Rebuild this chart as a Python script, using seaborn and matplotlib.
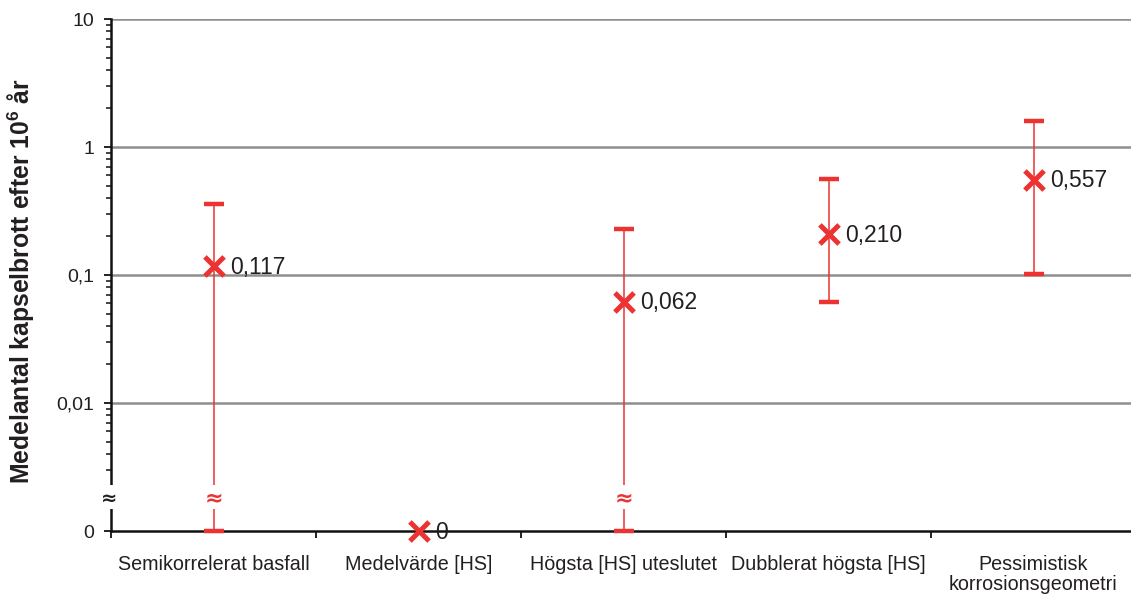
import numpy as np
import pandas as pd
import matplotlib
matplotlib.use("Agg")
import matplotlib.pyplot as plt
import matplotlib.transforms as mtransforms
from matplotlib.patches import Rectangle
import seaborn as sns

# Scenario names (x axis categories)
categories = [
    "Semikorrelerat basfall",
    "Medelvärde [HS]",
    "Högsta [HS] uteslutet",
    "Dubblerat högsta [HS]",
    "Pessimistisk\nkorrosionsgeometri",
]
# Mean number of canister failures and the uncertainty interval
mean_values = [0.117, 0.0, 0.062, 0.210, 0.557]
lower_values = [0.0, None, 0.0, 0.0615, 0.102]
upper_values = [0.359, None, 0.229, 0.562, 1.596]

# Y axis ticks (the bottom decade stands in for zero)
ytick_values = [0.001, 0.01, 0.1, 1, 10]
ytick_labels = ["0", "0,01", "0,1", "1", "10"]

FLOOR = 0.001
RED = "#EC3332"
TEXT = "#231F20"

sns.set_theme(style="white")
plt.rcParams["font.family"] = ["Liberation Sans", "DejaVu Sans"]
plt.rcParams["mathtext.fontset"] = "custom"
plt.rcParams["mathtext.rm"] = "Liberation Sans"
plt.rcParams["mathtext.bf"] = "Liberation Sans:bold"

fig = plt.figure(figsize=(11.31, 5.99), dpi=100)
W, H = 1131, 599
ax = fig.add_axes([111 / W, (H - 531) / H, 1025 / W, 512 / H])

x_pos = np.arange(len(categories))
plot_vals = [v if v > 0 else FLOOR for v in mean_values]
df = pd.DataFrame({"pos": x_pos, "value": plot_vals})

ax.set_yscale("log")
ax.set_ylim(FLOOR, 10)
ax.set_xlim(-0.5, len(categories) - 0.5)

# gridlines at the labelled decades
for yv in ytick_values[1:]:
    ax.axhline(yv, color="#8E8E8E", lw=1.8, zorder=1)

# error bars
for i, (lo, hi, m) in enumerate(zip(lower_values, upper_values, plot_vals)):
    if lo is None:
        continue
    lo_v = lo if lo > 0 else FLOOR
    eb = ax.errorbar([i], [m], yerr=[[m - lo_v], [hi - m]], fmt="none",
                     ecolor=RED, elinewidth=1.1, capsize=7, capthick=3.2,
                     zorder=3)
    for art in eb.get_children():
        art.set_clip_on(False)

# mean markers
sns.scatterplot(data=df, x="pos", y="value", marker="x", s=190,
                color=RED, linewidth=3.6, ax=ax, zorder=5, clip_on=False,
                legend=False)

# value labels
for i, (v, pv) in enumerate(zip(mean_values, plot_vals)):
    txt = "0" if v == 0 else f"{v:.3f}".replace(".", ",")
    ax.annotate(txt, (i, pv), xytext=(12, -1), textcoords="offset points",
                ha="left", va="center", fontsize=16.5, color=TEXT,
                annotation_clip=False, zorder=6)

# axis break: gap in the y axis and in the bars that reach zero
gap_lo, gap_hi, gap_mid = 22 / 512, 46 / 512, 33 / 512
blend = mtransforms.blended_transform_factory(ax.transData, ax.transAxes)
for i, lo in enumerate(lower_values):
    if lo is not None and lo == 0:
        ax.add_patch(Rectangle((i - 0.04, gap_lo), 0.08, gap_hi - gap_lo,
                               transform=blend, facecolor="white",
                               edgecolor="none", zorder=4))
        ax.text(i, gap_mid, "≈", transform=blend, ha="center", va="center",
                color=RED, fontsize=16, fontweight="bold", zorder=6,
                family=["DejaVu Sans"])
ax.add_patch(Rectangle((-0.01, gap_lo), 0.02, gap_hi - gap_lo,
                       transform=ax.transAxes, facecolor="white",
                       edgecolor="none", zorder=4, clip_on=False))
ax.text(-0.002, gap_mid, "≈", transform=ax.transAxes, ha="center",
        va="center", color=TEXT, fontsize=14, fontweight="bold", zorder=6,
        family=["DejaVu Sans"])

# spines
for side in ["top", "right"]:
    ax.spines[side].set_visible(False)
for side in ["left", "bottom"]:
    ax.spines[side].set_color("#111111")
    ax.spines[side].set_linewidth(1.8)
    ax.spines[side].set_zorder(2.5)

# y ticks
ax.set_yticks(ytick_values)
ax.set_yticklabels(ytick_labels)
minor = [m * 10.0 ** e for e in range(-3, 1) for m in range(2, 10)]
minor = [t for t in minor if not (t == 0.002)]
ax.set_yticks(minor, minor=True)
ax.yaxis.set_minor_formatter(matplotlib.ticker.NullFormatter())
ax.tick_params(axis="y", which="major", direction="out", length=5, width=1.3,
               color="#111111", labelsize=14, labelcolor=TEXT, pad=7,
               left=True)
ax.tick_params(axis="y", which="minor", direction="out", length=3.5,
               width=1.1, color="#111111", left=True)

# x ticks: labels at centres, tick marks at category boundaries
ax.set_xticks(x_pos)
ax.set_xticklabels(categories, linespacing=1.1)
ax.set_xticks(np.arange(len(categories) + 1) - 0.5, minor=True)
ax.tick_params(axis="x", which="major", length=0, labelsize=14.2,
               labelcolor=TEXT, pad=17)
ax.tick_params(axis="x", which="minor", direction="out", length=5,
               width=1.3, color="#111111", bottom=True)
ax.set_xlabel("")
ax.set_ylabel("")

fig.text(21 / W, 1 - 281 / H,
         r"Medelantal kapselbrott efter 10$\mathbf{^6}$ år",
         rotation=90, ha="center", va="center", fontsize=17.8,
         fontweight="bold", color=TEXT)

fig.savefig("out.png", dpi=100, facecolor="white")
